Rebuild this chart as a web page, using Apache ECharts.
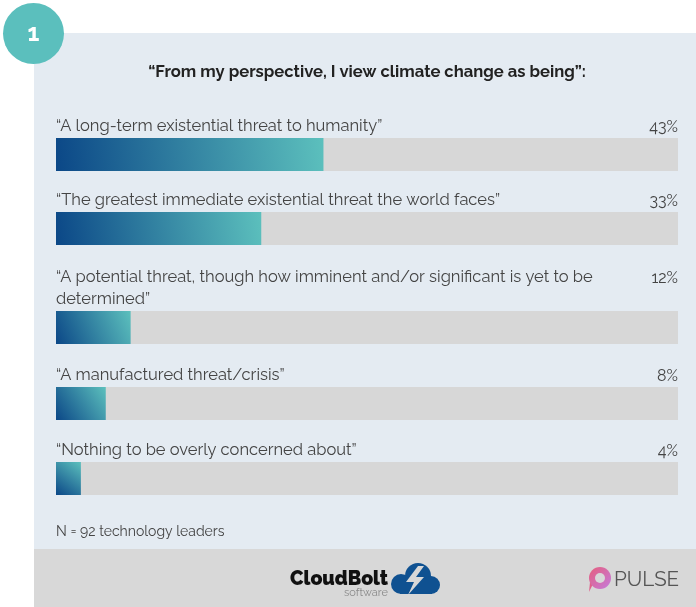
<!DOCTYPE html>
<html>
<head>
<meta charset="utf-8">
<script src="https://cdn.jsdelivr.net/npm/echarts@6/dist/echarts.min.js"></script>
<style>
  html, body { margin: 0; padding: 0; background: #ffffff; }
  #chart { width: 696px; height: 607px; }
</style>
</head>
<body>
<div id="chart"></div>
<script>
// Survey answers and their shares (percent of respondents)
const categories = [
  '\u201CA long-term existential threat to humanity\u201D',
  '\u201CThe greatest immediate existential threat the world faces\u201D',
  '\u201CA potential threat, though how imminent and/or significant is yet to be determined\u201D',
  '\u201CA manufactured threat/crisis\u201D',
  '\u201CNothing to be overly concerned about\u201D'
];
const shares = [43, 33, 12, 8, 4];
const scaleMax = 100;

const titleText = '\u201CFrom my perspective, I view climate change as being\u201D:';
const sampleNote = 'N = 92 technology leaders';

const FONT = 'Raleway, Lato, "Open Sans", sans-serif';
const LABEL_SIZE = 16.5;
const LINE_H = 22;
const WRAP_W = 560;
const rowTops = [138, 212, 311, 387, 462];
const barH = 33;

// how many lines an answer wraps onto, so the percentage sits on its first line
const measureCtx = document.createElement('canvas').getContext('2d');
measureCtx.font = LABEL_SIZE + 'px ' + FONT;
function lineCount(text) {
  const words = text.split(' ');
  let lines = 1, cur = '';
  words.forEach(w => {
    const trial = cur ? cur + ' ' + w : w;
    if (measureCtx.measureText(trial).width > WRAP_W && cur) { lines++; cur = w; }
    else cur = trial;
  });
  return lines;
}

const chart = echarts.init(document.getElementById('chart'), null, { renderer: 'canvas' });

const grids = [], xAxes = [], yAxes = [], series = [];
categories.forEach((name, i) => {
  const lines = lineCount(name);
  grids.push({ left: 56, right: 18, top: rowTops[i], height: barH, containLabel: false });
  xAxes.push({ gridIndex: i, type: 'value', min: 0, max: scaleMax, show: false });
  yAxes.push({ gridIndex: i, type: 'category', data: [name], show: false });
  // full-width grey track, carries the percentage label at its right end
  series.push({
    type: 'bar', xAxisIndex: i, yAxisIndex: i, barWidth: barH, barGap: '-100%',
    silent: true, animation: false,
    data: [scaleMax],
    itemStyle: { color: '#d7d7d7' },
    label: {
      show: true, position: ['100%', -11 - LINE_H * (lines - 1)], align: 'right', verticalAlign: 'middle',
      fontFamily: FONT, fontSize: 16, color: '#444',
      formatter: () => shares[i] + '%'
    }
  });
  // value bar with diagonal blue-to-teal fill, carries the answer text
  series.push({
    type: 'bar', xAxisIndex: i, yAxisIndex: i, barWidth: barH, barGap: '-100%',
    animation: false,
    data: [shares[i]],
    itemStyle: {
      color: new echarts.graphic.LinearGradient(0, 1, 1, 0, [
        { offset: 0, color: '#0b4787' },
        { offset: 1, color: '#5cc0bd' }
      ])
    },
    label: {
      show: true, position: [0, -1], align: 'left', verticalAlign: 'bottom',
      fontFamily: FONT, fontSize: LABEL_SIZE, color: '#444', lineHeight: LINE_H,
      width: WRAP_W, overflow: 'break',
      formatter: () => name
    }
  });
});

const footerGrey = '#d8d8d8';

chart.setOption({
  backgroundColor: '#ffffff',
  animation: false,
  grid: grids,
  xAxis: xAxes,
  yAxis: yAxes,
  series: series,
  graphic: [
    // light panel behind the chart
    { type: 'rect', z: -10, shape: { x: 34, y: 33, width: 662, height: 516 }, style: { fill: '#e4ebf2' } },
    // footer band
    { type: 'rect', z: -10, shape: { x: 34, y: 549, width: 662, height: 58 }, style: { fill: footerGrey } },
    // numbered badge
    { type: 'circle', z: 5, shape: { cx: 33.5, cy: 33.5, r: 30.5 }, style: { fill: '#5bbfbd' } },
    { type: 'text', z: 6, x: 33.5, y: 34, style: { text: '1', fill: '#ffffff', font: 'bold 24px ' + FONT, textAlign: 'center', textVerticalAlign: 'middle' } },
    // heading
    { type: 'text', x: 367, y: 72, style: { text: titleText, fill: '#222', font: 'bold 16.6px ' + FONT, textAlign: 'center', textVerticalAlign: 'middle' } },
    // sample size note
    { type: 'text', x: 56, y: 532, style: { text: sampleNote, fill: '#444', font: '14px ' + FONT, textAlign: 'left', textVerticalAlign: 'middle' } },
    // CloudBolt wordmark
    { type: 'text', x: 388, y: 579, style: { text: 'CloudBolt', fill: '#111', font: '900 19.5px ' + FONT, textAlign: 'right', textVerticalAlign: 'middle' } },
    { type: 'text', x: 388, y: 593, style: { text: 'software', fill: '#8a8a8a', font: '11px ' + FONT, textAlign: 'right', textVerticalAlign: 'middle' } },
    // CloudBolt cloud mark
    { type: 'group', children: [
      { type: 'circle', shape: { cx: 401, cy: 584, r: 10 }, style: { fill: '#0f5191' } },
      { type: 'circle', shape: { cx: 418, cy: 576, r: 13 }, style: { fill: '#0f5191' } },
      { type: 'circle', shape: { cx: 431, cy: 585, r: 9 }, style: { fill: '#0f5191' } },
      { type: 'rect', shape: { x: 400, y: 580, width: 32, height: 14 }, style: { fill: '#0f5191' } },
      { type: 'polygon', shape: { points: [[418, 566], [406, 582], [414, 582], [408, 595], [424, 577], [416, 577], [424, 566]] }, style: { fill: footerGrey } }
    ] },
    // PULSE mark
    { type: 'group', children: [
      { type: 'polygon', shape: { points: [[590, 582], [594, 582], [589, 592]] }, style: { fill: '#e0608a' } },
      { type: 'circle', shape: { cx: 600, cy: 578, r: 11 }, style: {
        fill: new echarts.graphic.LinearGradient(0, 0, 1, 1, [
          { offset: 0, color: '#e65f7d' }, { offset: 1, color: '#c47bdc' }
        ]) } },
      { type: 'circle', shape: { cx: 600, cy: 578, r: 5 }, style: { fill: footerGrey } }
    ] },
    { type: 'text', x: 614, y: 580, style: { text: 'PULSE', fill: '#555', font: '20.5px ' + FONT, textAlign: 'left', textVerticalAlign: 'middle' } }
  ]
});
</script>
</body>
</html>
